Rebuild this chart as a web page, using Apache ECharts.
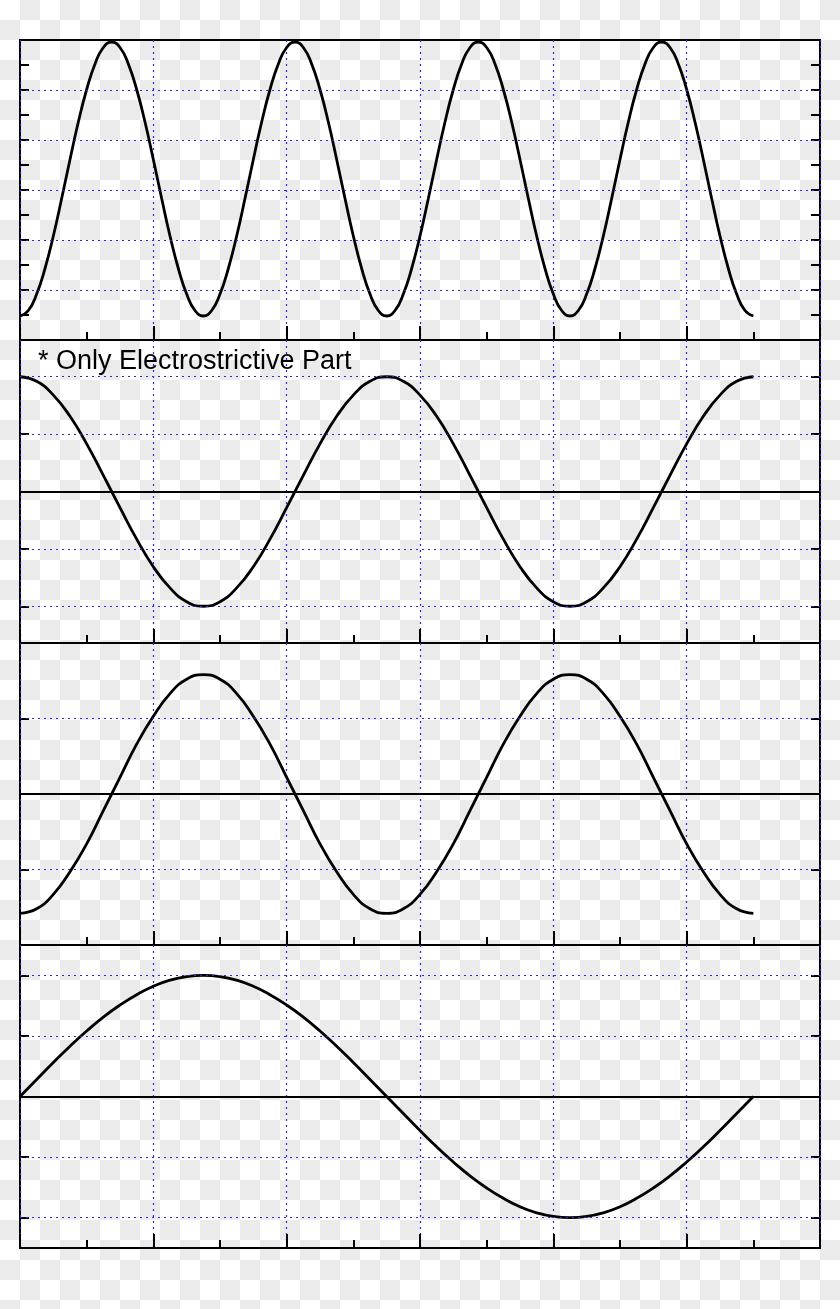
<!DOCTYPE html>
<html><head><meta charset="utf-8">
<script src="https://cdn.jsdelivr.net/npm/echarts@6/dist/echarts.min.js"></script>
<style>
html,body{margin:0;padding:0;}
body{width:840px;height:1309px;background-color:#fff;
background-image:linear-gradient(45deg,#ebebeb 25%,transparent 25%,transparent 75%,#ebebeb 75%),linear-gradient(45deg,#ebebeb 25%,transparent 25%,transparent 75%,#ebebeb 75%);
background-size:40px 40px;background-position:0 0,20px 20px;}
#c{width:840px;height:1309px;}
</style></head><body><div id="c"></div>
<script>
const xStep1 = 0.0625, xStep = 0.125;
const panel1 = [0.48,0.59,0.92,1.43,2.08,2.83,3.61,4.36,5.01,5.52,5.85,5.96,5.85,5.52,5.01,4.36,3.61,2.83,2.08,1.43,0.92,0.59,
0.48,0.59,0.92,1.43,2.08,2.83,3.61,4.36,5.01,5.52,5.85,5.96,5.85,5.52,5.01,4.36,3.61,2.83,2.08,1.43,0.92,0.59,
0.48,0.59,0.92,1.43,2.08,2.83,3.61,4.36,5.01,5.52,5.85,5.96,5.85,5.52,5.01,4.36,3.61,2.83,2.08,1.43,0.92,0.59,
0.48,0.59,0.92,1.43,2.08,2.83,3.61,4.36,5.01,5.52,5.85,5.96,5.85,5.52,5.01,4.36,3.61,2.83,2.08,1.43,0.92,0.59,0.48];
const panel2 = [2,1.92,1.68,1.31,0.83,0.28,-0.28,-0.83,-1.31,-1.68,-1.92,-2,-1.92,-1.68,-1.31,-0.83,-0.28,0.28,0.83,1.31,1.68,1.92,
2,1.92,1.68,1.31,0.83,0.28,-0.28,-0.83,-1.31,-1.68,-1.92,-2,-1.92,-1.68,-1.31,-0.83,-0.28,0.28,0.83,1.31,1.68,1.92,2];
const panel3 = [-1.58,-1.52,-1.33,-1.03,-0.66,-0.22,0.22,0.66,1.03,1.33,1.52,1.58,1.52,1.33,1.03,0.66,0.22,-0.22,-0.66,-1.03,-1.33,-1.52,
-1.58,-1.52,-1.33,-1.03,-0.66,-0.22,0.22,0.66,1.03,1.33,1.52,1.58,1.52,1.33,1.03,0.66,0.22,-0.22,-0.66,-1.03,-1.33,-1.52,-1.58];
const panel4 = [0,0.28,0.56,0.83,1.08,1.31,1.51,1.68,1.82,1.92,1.98,2,1.98,1.92,1.82,1.68,1.51,1.31,1.08,0.83,0.56,0.28,
0,-0.28,-0.56,-0.83,-1.08,-1.31,-1.51,-1.68,-1.82,-1.92,-1.98,-2,-1.98,-1.92,-1.82,-1.68,-1.51,-1.31,-1.08,-0.83,-0.56,-0.28,0];
const yRanges = [[0,6],[-2.64,2.64],[-2,2],[-2.5,2.5]];
const yTicks = [[0.5,1,1.5,2,2.5,3,3.5,4,4.5,5,5.5],[-2,-1,0,1,2],[-1,0,1],[-2,-1,0,1,2]];
const yGrid = [[1,2,3,4,5],[-2,-1,1,2],[-1,1],[-2,-1,1,2]];
const tops = [40,340,643,945], bottoms = [340,643,945,1248];
const panels = [panel1,panel2,panel3,panel4];
const steps = [xStep1,xStep,xStep,xStep];
const grid=[],xAxis=[],yAxis=[],series=[];
const blueDot={color:'#2b2bd6',type:[2,4],width:1.2};
panels.forEach((p,i)=>{
  grid.push({left:20,right:20,top:tops[i],height:bottoms[i]-tops[i],show:true,borderColor:'#000',borderWidth:2,backgroundColor:'transparent'});
  xAxis.push({type:'value',gridIndex:i,min:0,max:6,interval:1,position:'bottom',
    axisLine:{show:false,onZero:false},axisLabel:{show:false},
    axisTick:{show:true,inside:true,length:14,lineStyle:{color:'#000',width:2}},
    minorTick:{show:true,splitNumber:2,length:8,lineStyle:{color:'#000',width:2}},
    splitLine:{show:true,lineStyle:blueDot}});
  for(let s=0;s<2;s++) yAxis.push({type:'value',gridIndex:i,min:yRanges[i][0],max:yRanges[i][1],
    position:s?'right':'left',
    axisLine:{show:false,onZero:false},axisLabel:{show:false},
    axisTick:{show:true,inside:true,length:9,customValues:yTicks[i],lineStyle:{color:'#000',width:2}},
    splitLine:{show:false}});
  series.push({type:'line',xAxisIndex:i,yAxisIndex:2*i,symbol:'none',smooth:true,
    lineStyle:{color:'#000',width:2.8},
    data:p.map((v,k)=>[k*steps[i],v]),
    markLine:{silent:true,symbol:'none',label:{show:false},
      data:yGrid[i].map(v=>({yAxis:v,lineStyle:blueDot})).concat(i>0?[{yAxis:0,lineStyle:{color:'#000',width:2.2,type:'solid'}}]:[])}});
});
const chart=echarts.init(document.getElementById('c'));
chart.setOption({animation:false,grid,xAxis,yAxis,series,
  graphic:[{type:'text',left:38,top:348,style:{text:'* Only Electrostrictive Part',font:'27px "Liberation Sans", Arial',fill:'#000'}}]});
</script></body></html>
